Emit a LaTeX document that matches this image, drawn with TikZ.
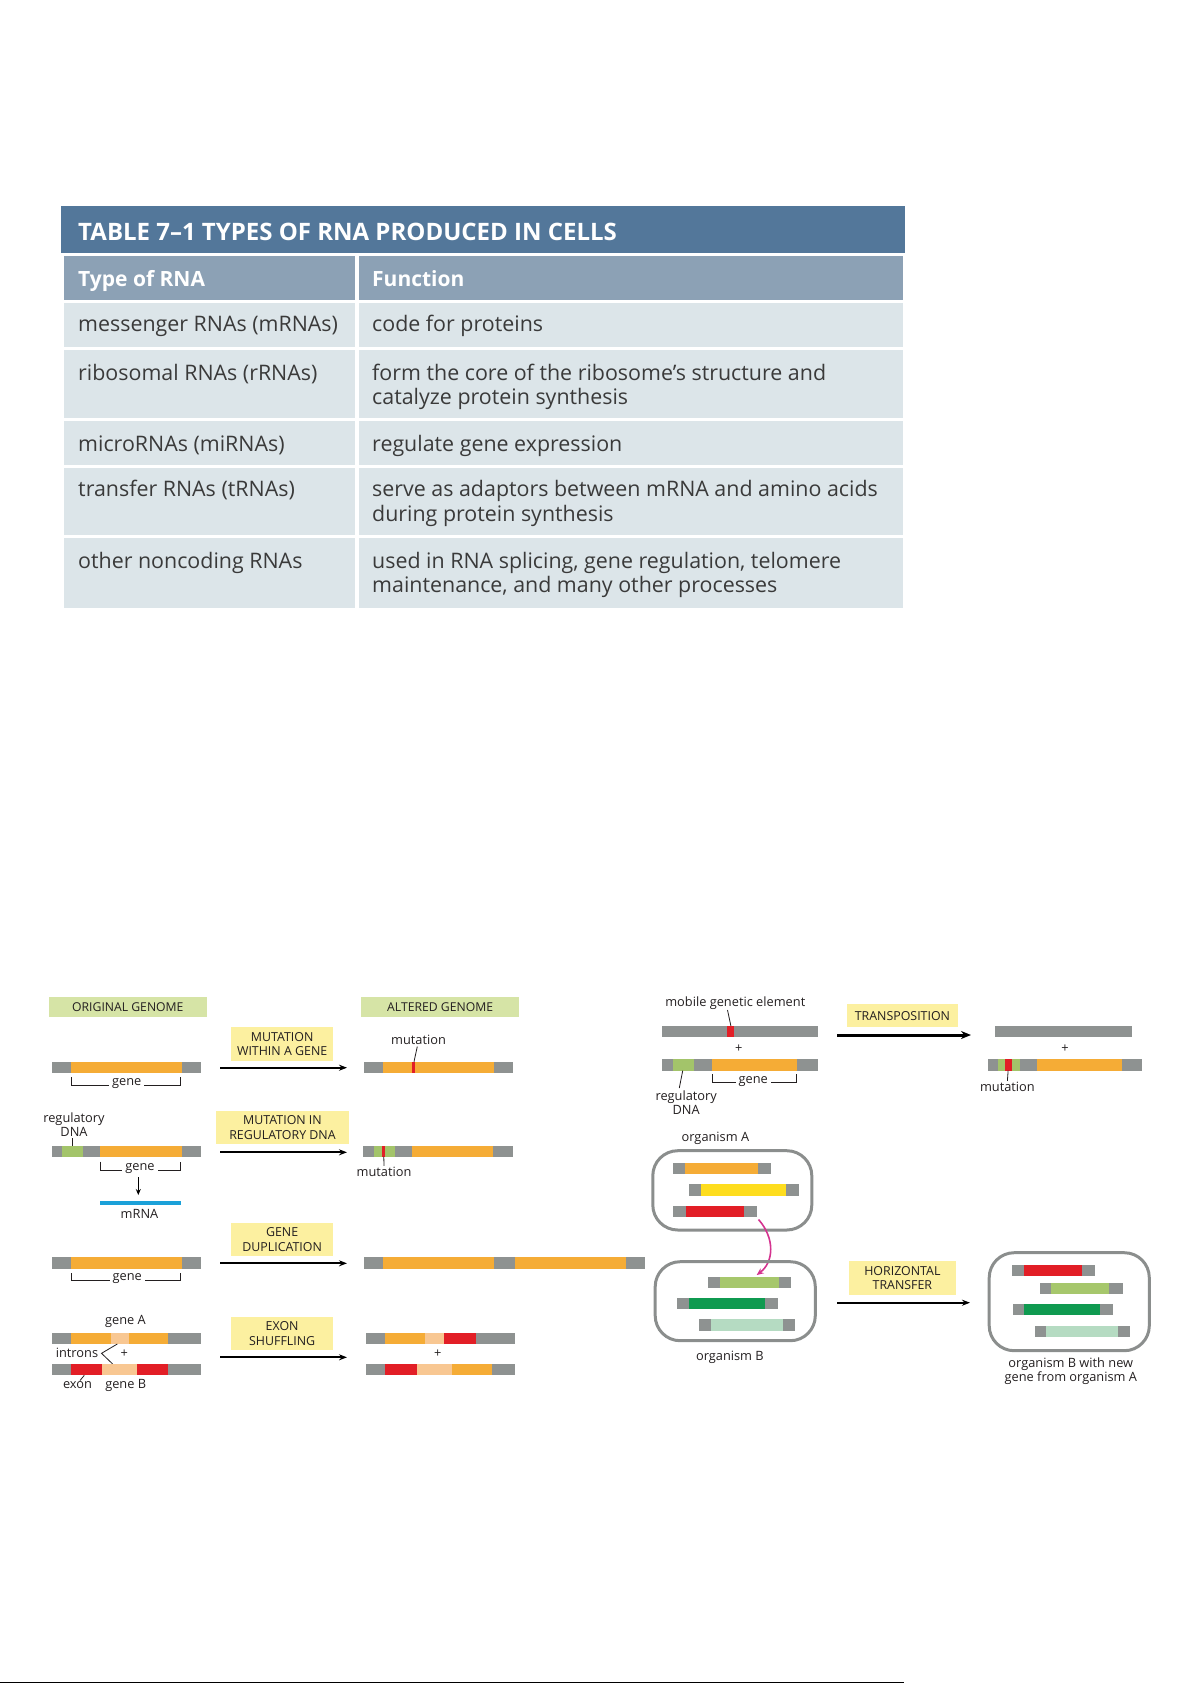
\documentclass[tikz,border=0pt]{standalone}
\usepackage{fontspec}
\setmainfont{Open Sans}
\usetikzlibrary{arrows.meta}
\definecolor{titlebar}{HTML}{53779A}
\definecolor{headrow}{HTML}{8CA1B5}
\definecolor{rowbg}{HTML}{DCE5E9}
\definecolor{chr}{HTML}{8E9291}
\definecolor{org}{HTML}{F5AC36}
\definecolor{regg}{HTML}{A3C46A}
\definecolor{mutr}{HTML}{E21E26}
\definecolor{peach}{HTML}{F8C792}
\definecolor{yel}{HTML}{FEDD1E}
\definecolor{dgreen}{HTML}{0F9A50}
\definecolor{lgreen}{HTML}{A6C76C}
\definecolor{pgreen}{HTML}{B5DBC2}
\definecolor{mblue}{HTML}{1BA1D9}
\definecolor{ylabel}{HTML}{FCF0A0}
\definecolor{glabel}{HTML}{D6E4A6}
\definecolor{magen}{HTML}{D4338F}
\definecolor{cellline}{HTML}{8B8E8D}
\definecolor{txt}{HTML}{231F20}
\definecolor{ttxt}{HTML}{3A3A3A}
\newcommand{\bseg}[5]{\fill[#1] (#2,#3) rectangle (#4,#5);}
\begin{document}
\begin{tikzpicture}[x=1pt,y=-1pt,
  ttl/.style={anchor=base west, inner sep=0pt, text=white, font=\fontsize{24}{28}\selectfont\bfseries},
  thd/.style={anchor=base west, inner sep=0pt, text=white, font=\fontsize{21}{25}\selectfont\bfseries},
  tcell/.style={anchor=base west, inner sep=0pt, text=ttxt, font=\fontsize{21.4}{25}\selectfont},
  lbl/.style={inner sep=0.6pt, text=txt, font=\fontsize{12.8}{13.9}\selectfont, align=center},
  glab/.style={fill=glabel, inner sep=0pt, text=txt, font=\fontsize{12.2}{14}\selectfont},
  ylab/.style={fill=ylabel, inner sep=0pt, text=txt, align=center, font=\fontsize{12.4}{14.5}\selectfont},
  arr/.style={line width=1.7pt, -{Stealth[length=8pt,width=6pt]}},
  brk/.style={line width=0.9pt, draw=txt},
  ptr/.style={line width=0.8pt, draw=txt},
  cell/.style={draw=cellline, line width=3pt, rounded corners=25pt}]
\useasboundingbox (0,0) rectangle (1192,1684);

% ---------------- TABLE ----------------
\fill[titlebar] (61,206) rectangle (905,253);
\fill[headrow] (64,256) rectangle (354.5,300);
\fill[headrow] (358.5,256) rectangle (903,300);
\foreach \a/\b in {303/347,350/418,421/465,468/535,538/608}{
  \fill[rowbg] (64,\a) rectangle (354.5,\b);
  \fill[rowbg] (358.5,\a) rectangle (903,\b);
}
\node[ttl] (title) at (78,240.5) {TABLE 7–1 TYPES OF RNA PRODUCED IN CELLS};
\node[thd] (h1) at (78,286) {Type of RNA};
\node[thd] (h2) at (372,286) {Function};
\node[tcell] (r1a) at (78,331.7) {messenger RNAs (mRNAs)};
\node[tcell] (r1b) at (372,331.7) {code for proteins};
\node[tcell] (r2a) at (78,380) {ribosomal RNAs (rRNAs)};
\node[tcell] (r2b) at (372,380) {form the core of the ribosome’s structure and};
\node[tcell] (r2c) at (372,404.5) {catalyze protein synthesis};
\node[tcell] (r3a) at (78,451.7) {microRNAs (miRNAs)};
\node[tcell] (r3b) at (372,451.7) {regulate gene expression};
\node[tcell] (r4a) at (78,496.7) {transfer RNAs (tRNAs)};
\node[tcell] (r4b) at (372,496.7) {serve as adaptors between mRNA and amino acids};
\node[tcell] (r4c) at (372,521.2) {during protein synthesis};
\node[tcell] (r5a) at (78,568.3) {other noncoding RNAs};
\node[tcell] (r5b) at (372,568.3) {used in RNA splicing, gene regulation, telomere};
\node[tcell] (r5c) at (372,592.8) {maintenance, and many other processes};

% ---------------- LEFT DIAGRAM ----------------
\node[glab, minimum width=157.7pt, minimum height=19.4pt] (orig) at (127.85,1007) {ORIGINAL GENOME};
\node[glab, minimum width=158.3pt, minimum height=19.4pt] (alt) at (440.15,1007) {ALTERED GENOME};

% row 1
\node[ylab, minimum width=102.3pt, minimum height=33.4pt] (b1) at (282.15,1044) {MUTATION\\WITHIN A GENE};
\coordinate (a1s) at (220,1067.7); \coordinate (a1e) at (347,1067.7);
\draw[arr] (a1s) -- (a1e);
\bseg{chr}{51.7}{1061.7}{200.7}{1072.7}
\bseg{org}{70.7}{1061.7}{181.7}{1072.7}
\draw[brk] (71,1077.3) -- (71,1085) -- (180.7,1085) -- (180.7,1077.3);
\node[lbl, fill=white, inner xsep=3pt] (g1) at (126.7,1083.5) {gene};
\bseg{chr}{364.3}{1061.7}{513.3}{1072.7}
\bseg{org}{383.3}{1061.7}{494}{1072.7}
\bseg{mutr}{411.7}{1061.7}{415.3}{1072.7}
\node[lbl] (m1) at (418.5,1039.5) {mutation};
\coordinate (m1p) at (414,1061.7);
\draw[ptr] (417.3,1046.5) -- (m1p);

% row 2
\node[lbl] (reg1) at (74,1124.5) {regulatory\\DNA};
\coordinate (reg1p) at (72.3,1146);
\draw[ptr] (72.3,1138.3) -- (reg1p);
\bseg{chr}{51.7}{1146}{200.7}{1156.7}
\bseg{regg}{61.7}{1146}{82.7}{1156.7}
\bseg{org}{100}{1146}{181.7}{1156.7}
\draw[brk] (100.7,1161.7) -- (100.7,1170) -- (180.7,1170) -- (180.7,1161.7);
\node[lbl, fill=white, inner xsep=3pt] (g2) at (140,1168.5) {gene};
\coordinate (d1s) at (138.3,1177); \coordinate (d1e) at (138.3,1195);
\draw[line width=1.4pt, -{Stealth[length=6pt,width=5pt]}] (d1s) -- (d1e);
\fill[mblue] (100,1200.7) rectangle (180.7,1205.3);
\node[lbl] (mrna) at (139.5,1214) {mRNA};
\node[ylab, minimum width=133pt, minimum height=33.3pt] (b2) at (282.5,1127.65) {MUTATION IN\\REGULATORY DNA};
\coordinate (a2s) at (220,1152.3); \coordinate (a2e) at (347,1152.3);
\draw[arr] (a2s) -- (a2e);
\bseg{chr}{363.3}{1146}{512.7}{1156.7}
\bseg{regg}{374}{1146}{395}{1156.7}
\bseg{mutr}{382.3}{1146}{385.3}{1156.7}
\bseg{org}{411.7}{1146}{493.3}{1156.7}
\node[lbl] (m2) at (384,1171.5) {mutation};
\draw[ptr] (383.8,1156.7) -- (m2.north);

% row 3
\node[ylab, minimum width=102.3pt, minimum height=33.3pt] (b3) at (282.15,1239.35) {GENE\\DUPLICATION};
\coordinate (a3s) at (220,1263.3); \coordinate (a3e) at (347,1263.3);
\draw[arr] (a3s) -- (a3e);
\bseg{chr}{51.7}{1257.3}{200.7}{1268.7}
\bseg{org}{70.7}{1257.3}{181.7}{1268.7}
\draw[brk] (71,1273.3) -- (71,1280.5) -- (180.7,1280.5) -- (180.7,1273.3);
\node[lbl, fill=white, inner xsep=3pt] (g3) at (127.3,1279) {gene};
\bseg{chr}{364.3}{1257.3}{645}{1268.7}
\bseg{org}{383.3}{1257.3}{494}{1268.7}
\bseg{org}{515}{1257.3}{626}{1268.7}

% row 4
\node[lbl] (ga) at (125.5,1321.5) {gene A};
\bseg{chr}{51.7}{1332.7}{200.7}{1344}
\bseg{org}{70.7}{1332.7}{110.7}{1344}
\bseg{peach}{110.7}{1332.7}{129}{1344}
\bseg{org}{129}{1332.7}{168.3}{1344}
\node[lbl] (intr) at (77,1352.5) {introns};
\coordinate (iap) at (101.5,1353.3);
\coordinate (iA) at (117.3,1344); \coordinate (iB) at (112.7,1364);
\draw[ptr] (iA) -- (iap) -- (iB);
\node[lbl] (pl1) at (124.3,1353.3) {+};
\bseg{chr}{51.7}{1364}{200.7}{1375.3}
\bseg{mutr}{70.7}{1364}{102.3}{1375.3}
\bseg{peach}{102.3}{1364}{136.7}{1375.3}
\bseg{mutr}{136.7}{1364}{168.3}{1375.3}
\node[lbl] (exon) at (77.5,1385) {exon};
\coordinate (exp) at (84.3,1375.3);
\draw[ptr] (80,1380.5) -- (exp);
\node[lbl] (gb) at (125.7,1385) {gene B};
\node[ylab, minimum width=102.3pt, minimum height=33.3pt] (b4) at (282.15,1333.35) {EXON\\SHUFFLING};
\coordinate (a4s) at (220,1357.3); \coordinate (a4e) at (347,1357.3);
\draw[arr] (a4s) -- (a4e);
\bseg{chr}{366}{1332.7}{515.3}{1344}
\bseg{org}{385}{1332.7}{425}{1344}
\bseg{peach}{425}{1332.7}{444}{1344}
\bseg{mutr}{444}{1332.7}{475.7}{1344}
\node[lbl] (pl2) at (437.7,1353.3) {+};
\bseg{chr}{366}{1364}{515.3}{1375.3}
\bseg{mutr}{385}{1364}{416.7}{1375.3}
\bseg{peach}{416.7}{1364}{451.7}{1375.3}
\bseg{org}{451.7}{1364}{491.7}{1375.3}

% ---------------- TRANSPOSITION ----------------
\node[lbl] (mge) at (735.3,1003.3) {mobile genetic element};
\coordinate (mgep) at (730.9,1026);
\draw[ptr] (727.5,1010) -- (mgep);
\bseg{chr}{662}{1026}{817.7}{1037.3}
\bseg{mutr}{727.1}{1026}{734}{1037.3}
\node[lbl] (pl3) at (738.8,1048.3) {+};
\bseg{chr}{662}{1059}{817.7}{1070.7}
\bseg{regg}{673.1}{1059}{694.1}{1070.7}
\bseg{org}{712}{1059}{797}{1070.7}
\draw[brk] (712.7,1074) -- (712.7,1082.7) -- (796,1082.7) -- (796,1074);
\node[lbl, fill=white, inner xsep=3pt] (g4) at (753.3,1081.2) {gene};
\node[lbl] (reg2) at (686.2,1102.5) {regulatory\\DNA};
\coordinate (reg2p) at (682.7,1070.7);
\draw[ptr] (reg2p) -- (679.3,1088);
\node[ylab, minimum width=110.2pt, minimum height=23pt] (b5) at (902.4,1015.8) {TRANSPOSITION};
\coordinate (a5s) at (837,1035); \coordinate (a5e) at (971,1035);
\draw[line width=3pt, -{Stealth[length=10pt,width=8pt]}] (a5s) -- (a5e);
\bseg{chr}{995}{1026}{1132.1}{1037.3}
\node[lbl] (pl4) at (1065,1048.3) {+};
\bseg{chr}{987.5}{1059}{1141.7}{1070.7}
\bseg{regg}{997.8}{1059}{1019.5}{1070.7}
\bseg{mutr}{1005.4}{1059}{1011.6}{1070.7}
\bseg{org}{1037.4}{1059}{1121.8}{1070.7}
\node[lbl] (m3) at (1007.4,1086.5) {mutation};
\coordinate (m3p) at (1008.1,1070.7);
\draw[ptr] (m3p) -- (m3.north);

% ---------------- HORIZONTAL TRANSFER ----------------
\node[lbl] (orgA) at (715.4,1138) {organism A};
\draw[cell] (652.8,1150.7) rectangle (811.8,1230);
\bseg{chr}{673.4}{1162.7}{770.5}{1174}
\bseg{org}{685.1}{1162.7}{757.8}{1174}
\bseg{chr}{688.9}{1184.3}{798.8}{1196}
\bseg{yel}{701}{1184.3}{786}{1196}
\bseg{chr}{673.4}{1205.7}{756.7}{1216.7}
\bseg{mutr}{685.5}{1205.7}{744}{1216.7}
\coordinate (hs) at (758.5,1219.5); \coordinate (he) at (756.7,1275);
\draw[magen, line width=1.6pt, -{Stealth[length=7pt,width=6pt]}] (hs) .. controls (775,1238) and (774,1262) .. (he);
\draw[cell] (655.2,1261.7) rectangle (815.3,1340.7);
\bseg{chr}{707.9}{1276.7}{790.5}{1287.7}
\bseg{lgreen}{719.9}{1276.7}{779.1}{1287.7}
\bseg{chr}{676.9}{1297.7}{778.1}{1309}
\bseg{dgreen}{688.6}{1297.7}{764.7}{1309}
\bseg{chr}{699.2}{1319}{795.3}{1330.7}
\bseg{pgreen}{711.3}{1319}{783.3}{1330.7}
\node[lbl] (orgB) at (729.9,1357.3) {organism B};
\node[ylab, minimum width=106.8pt, minimum height=34.3pt] (b6) at (902.4,1277.85) {HORIZONTAL\\TRANSFER};
\coordinate (a6s) at (837,1302.7); \coordinate (a6e) at (970,1302.7);
\draw[arr] (a6s) -- (a6e);
\draw[cell] (989.2,1252.7) rectangle (1149.3,1350.7);
\bseg{chr}{1012.3}{1265.3}{1094.9}{1276.3}
\bseg{mutr}{1024.3}{1265.3}{1082.2}{1276.3}
\bseg{chr}{1039.8}{1282.7}{1122.8}{1293.7}
\bseg{lgreen}{1051.2}{1282.7}{1109}{1293.7}
\bseg{chr}{1012.6}{1303.7}{1112.5}{1315}
\bseg{dgreen}{1024.3}{1303.7}{1100.1}{1315}
\bseg{chr}{1035}{1325.7}{1130.4}{1337}
\bseg{pgreen}{1046.4}{1325.7}{1118.3}{1337}
\node[lbl] (orgBn) at (1070.8,1371) {organism B with new\\gene from organism A};

% bottom rule
\coordinate (rl) at (0,1682.5); \coordinate (rr) at (904,1682.5);
\draw[line width=1.5pt] (rl) -- (rr);
\end{tikzpicture}
\end{document}
